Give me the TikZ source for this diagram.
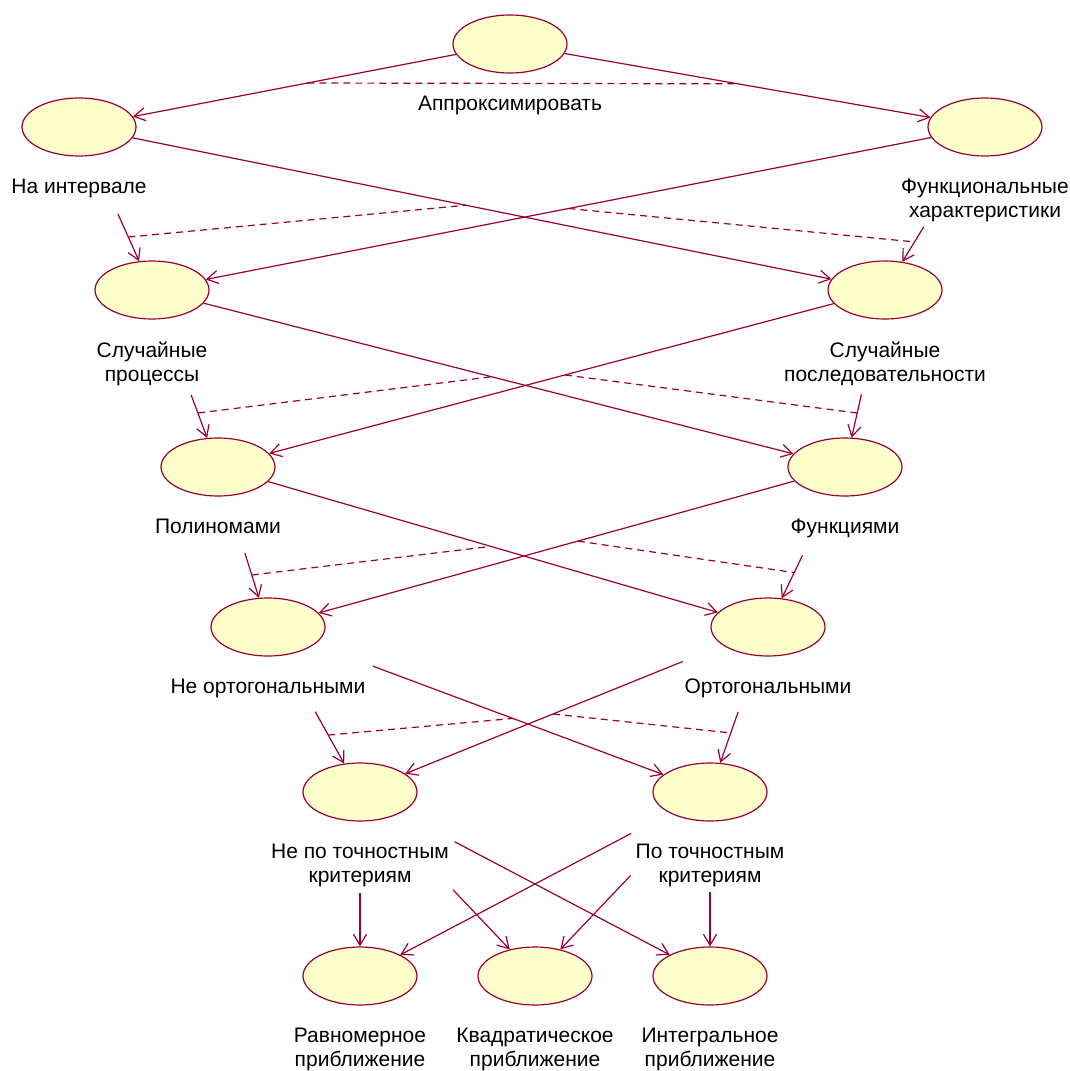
\documentclass[tikz,border=0pt]{standalone}
\usepackage{fontspec}
\setmainfont{Liberation Sans}
\usetikzlibrary{positioning,calc,arrows.meta,shapes.geometric}
\definecolor{umlred}{RGB}{153,0,51}
\definecolor{umlfill}{RGB}{255,255,204}

\begin{document}
\begin{tikzpicture}[x=1pt,y=-1pt,node distance=22pt]
\tikzstyle{usecase} = [ellipse, draw=umlred, fill=umlfill, line width=1.2pt, minimum width=114pt, minimum height=58pt, inner sep=0pt]
\tikzstyle{caption} = [align=center, inner sep=0pt, font=\fontsize{21}{24}\selectfont]
\tikzstyle{arrow} = [-{Straight Barb[length=11pt,width=13pt]}, draw=umlred, line width=1.2pt]
\tikzstyle{constraint} = [draw=umlred, line width=1.2pt, dash pattern=on 7pt off 5pt]

\useasboundingbox (0,0) rectangle (1069,1071);

\node (Approximate) [usecase] at (510,44) {};
\node (ApproximateLabel) [caption, below=of Approximate] {Аппроксимировать};
\node (OnInterval) [usecase] at (79,127) {};
\node (OnIntervalLabel) [caption, below=of OnInterval] {На интервале};
\node (Functional) [usecase] at (985,127) {};
\node (FunctionalLabel) [caption, below=of Functional] {Функциональные\\характеристики};
\node (RandomProcesses) [usecase] at (152,290) {};
\node (RandomProcessesLabel) [caption, below=of RandomProcesses] {Случайные\\процессы};
\node (RandomSequences) [usecase] at (885,290) {};
\node (RandomSequencesLabel) [caption, below=of RandomSequences] {Случайные\\последовательности};
\node (Polynomials) [usecase] at (218,467) {};
\node (PolynomialsLabel) [caption, below=of Polynomials] {Полиномами};
\node (Functions) [usecase] at (845,467) {};
\node (FunctionsLabel) [caption, below=of Functions] {Функциями};
\node (NonOrthogonal) [usecase] at (268,627) {};
\node (NonOrthogonalLabel) [caption, below=of NonOrthogonal] {Не ортогональными};
\node (Orthogonal) [usecase] at (768,627) {};
\node (OrthogonalLabel) [caption, below=of Orthogonal] {Ортогональными};
\node (NonAccuracy) [usecase] at (360,792) {};
\node (NonAccuracyLabel) [caption, below=of NonAccuracy] {Не по точностным\\критериям};
\node (Accuracy) [usecase] at (710,792) {};
\node (AccuracyLabel) [caption, below=of Accuracy] {По точностным\\критериям};
\node (Uniform) [usecase] at (360,976) {};
\node (UniformLabel) [caption, below=of Uniform] {Равномерное\\приближение};
\node (Quadratic) [usecase] at (535,976) {};
\node (QuadraticLabel) [caption, below=of Quadratic] {Квадратическое\\приближение};
\node (Integral) [usecase] at (710,976) {};
\node (IntegralLabel) [caption, below=of Integral] {Интегральное\\приближение};

\draw [arrow] (Approximate) -- (OnInterval);
\draw [arrow] (Approximate) -- (Functional);

\draw [arrow, shorten <=95pt] (OnInterval.center) -- (RandomProcesses);
\draw [arrow] (OnInterval) -- (RandomSequences);
\draw [arrow] (Functional) -- (RandomProcesses);
\draw [arrow, shorten <=117pt] (Functional.center) -- (RandomSequences);

\draw [arrow, shorten <=112pt] (RandomProcesses.center) -- (Polynomials);
\draw [arrow] (RandomProcesses) -- (Functions);
\draw [arrow] (RandomSequences) -- (Polynomials);
\draw [arrow, shorten <=107pt] (RandomSequences.center) -- (Functions);

\draw [arrow, shorten <=90pt] (Polynomials.center) -- (NonOrthogonal);
\draw [arrow] (Polynomials) -- (Orthogonal);
\draw [arrow] (Functions) -- (NonOrthogonal);
\draw [arrow, shorten <=98pt] (Functions.center) -- (Orthogonal);

\draw [arrow, shorten <=97pt] (NonOrthogonal.center) -- (NonAccuracy);
\draw [arrow, shorten <=112pt] (NonOrthogonal.center) -- (Accuracy);
\draw [arrow, shorten <=92pt] (Orthogonal.center) -- (NonAccuracy);
\draw [arrow, shorten <=90pt] (Orthogonal.center) -- (Accuracy);

\draw [arrow, shorten <=101pt] (NonAccuracy.center) -- (Uniform);
\draw [arrow, shorten <=135pt] (NonAccuracy.center) -- (Quadratic);
\draw [arrow, shorten <=107pt] (NonAccuracy.center) -- (Integral);
\draw [arrow, shorten <=89pt] (Accuracy.center) -- (Uniform);
\draw [arrow, shorten <=115pt] (Accuracy.center) -- (Quadratic);
\draw [arrow, shorten <=100pt] (Accuracy.center) -- (Integral);

\coordinate (ApproximateOrA) at ($(Approximate)!0.47!(OnInterval)$);
\coordinate (ApproximateOrB) at ($(Approximate)!0.48!(Functional)$);
\coordinate (OnIntervalOrA) at ($(OnInterval)!0.675!(RandomProcesses)$);
\coordinate (OnIntervalOrB) at ($(OnInterval)!0.48!(RandomSequences)$);
\coordinate (FunctionalOrA) at ($(Functional)!0.50!(RandomProcesses)$);
\coordinate (FunctionalOrB) at ($(Functional)!0.705!(RandomSequences)$);
\coordinate (RandomProcessesOrA) at ($(RandomProcesses)!0.695!(Polynomials)$);
\coordinate (RandomProcessesOrB) at ($(RandomProcesses)!0.49!(Functions)$);
\coordinate (RandomSequencesOrA) at ($(RandomSequences)!0.48!(Polynomials)$);
\coordinate (RandomSequencesOrB) at ($(RandomSequences)!0.695!(Functions)$);
\coordinate (PolynomialsOrA) at ($(Polynomials)!0.675!(NonOrthogonal)$);
\coordinate (PolynomialsOrB) at ($(Polynomials)!0.496!(Orthogonal)$);
\coordinate (FunctionsOrA) at ($(Functions)!0.463!(NonOrthogonal)$);
\coordinate (FunctionsOrB) at ($(Functions)!0.66!(Orthogonal)$);
\coordinate (NonOrthogonalOrA) at ($(NonOrthogonal)!0.655!(NonAccuracy)$);
\coordinate (NonOrthogonalOrB) at ($(NonOrthogonal)!0.554!(Accuracy)$);
\coordinate (OrthogonalOrA) at ($(Orthogonal)!0.527!(NonAccuracy)$);
\coordinate (OrthogonalOrB) at ($(Orthogonal)!0.642!(Accuracy)$);

\draw [constraint] (ApproximateOrA) -- (ApproximateOrB);
\draw [constraint] (OnIntervalOrA) -- (OnIntervalOrB);
\draw [constraint] (FunctionalOrA) -- (FunctionalOrB);
\draw [constraint] (RandomProcessesOrA) -- (RandomProcessesOrB);
\draw [constraint] (RandomSequencesOrA) -- (RandomSequencesOrB);
\draw [constraint] (PolynomialsOrA) -- (PolynomialsOrB);
\draw [constraint] (FunctionsOrA) -- (FunctionsOrB);
\draw [constraint] (NonOrthogonalOrA) -- (NonOrthogonalOrB);
\draw [constraint] (OrthogonalOrA) -- (OrthogonalOrB);

\end{tikzpicture}
\end{document}
